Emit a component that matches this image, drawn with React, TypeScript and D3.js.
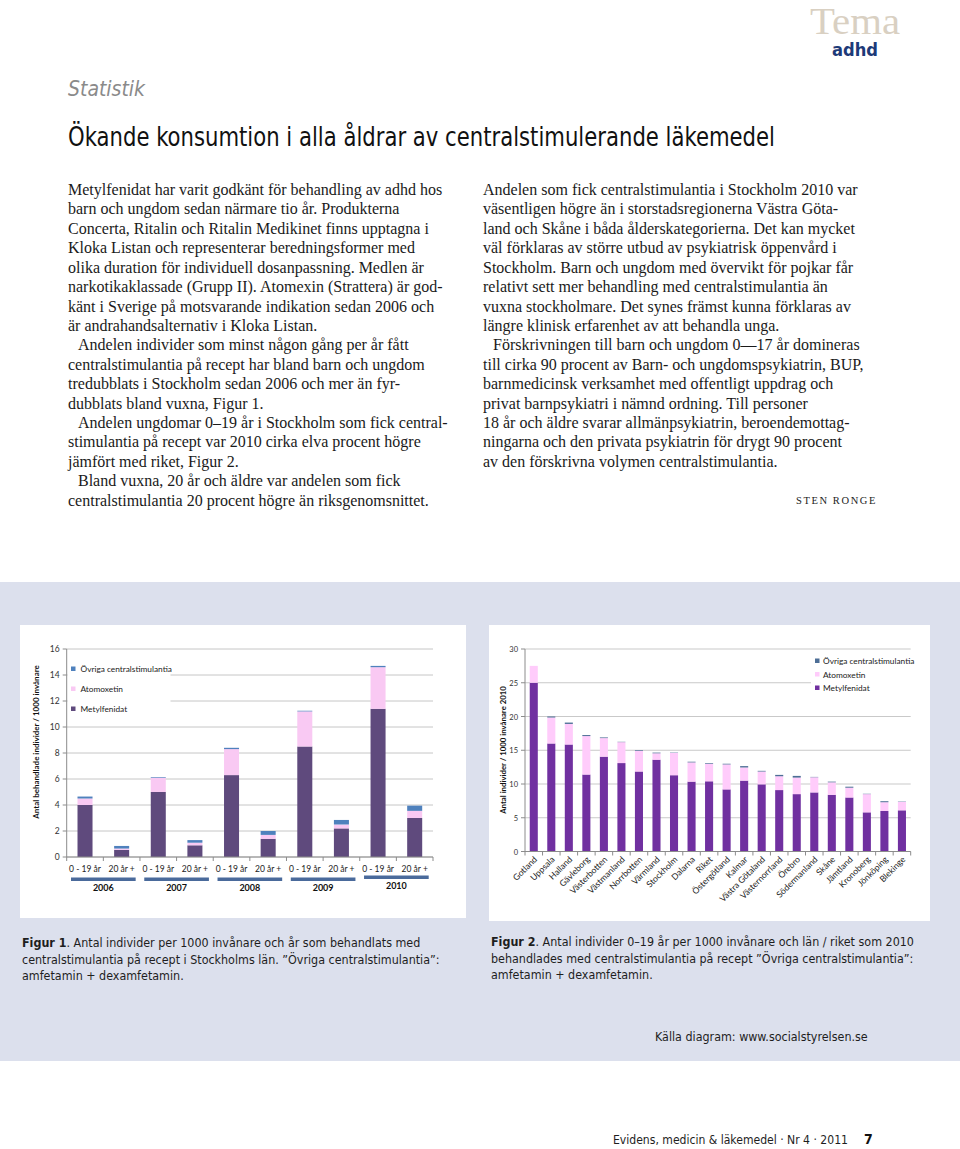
import React from 'react';
import * as d3 from 'd3';

// ---------- DATA ----------
const fig1Years = ['2006', '2007', '2008', '2009', '2010'];
const fig1Groups = ['0 - 19 år', '20 år +'];
const fig1Metyl = [4.0, 0.55, 5.0, 0.9, 6.3, 1.4, 8.5, 2.2, 11.4, 3.0];
const fig1Atom = [0.5, 0.1, 1.1, 0.2, 2.0, 0.3, 2.7, 0.3, 3.2, 0.55];
const fig1Ovr = [0.15, 0.2, 0.05, 0.2, 0.1, 0.3, 0.05, 0.35, 0.1, 0.4];
const fig1Ticks = [0, 2, 4, 6, 8, 10, 12, 14, 16];

const fig2Regions = ['Gotland', 'Uppsala', 'Halland', 'Gävleborg', 'Västerbotten', 'Västmanland', 'Norrbotten', 'Värmland', 'Stockholm', 'Dalarna', 'Riket', 'Östergötland', 'Kalmar', 'Västra Götaland', 'Västernorrland', 'Örebro', 'Södermanland', 'Skåne', 'Jämtland', 'Kronoberg', 'Jönköping', 'Blekinge'];
const fig2Metyl = [25.0, 16.0, 15.85, 11.4, 14.05, 13.1, 11.85, 13.6, 11.3, 10.35, 10.4, 9.2, 10.5, 9.95, 9.1, 8.5, 8.75, 8.4, 8.0, 5.8, 6.0, 6.1];
const fig2Atom = [2.5, 3.85, 3.05, 5.7, 2.75, 3.1, 3.05, 0.95, 3.3, 2.85, 2.6, 3.7, 1.95, 1.9, 2.05, 2.45, 2.25, 1.85, 1.45, 2.7, 1.3, 1.25];
const fig2Ovr = [0, 0.15, 0.2, 0.15, 0.1, 0.05, 0.1, 0.1, 0.05, 0.1, 0.1, 0.1, 0.2, 0.1, 0.2, 0.25, 0.05, 0.1, 0.15, 0.05, 0.15, 0.05];
const fig2Ticks = [0, 5, 10, 15, 20, 25, 30];

const seriesLegend = ['Övriga centralstimulantia', 'Atomoxetin', 'Metylfenidat'];

const leftColumn = [
  ['Metylfenidat har varit godkänt för behandling av adhd hos',
    'barn och ungdom sedan närmare tio år. Produkterna',
    'Concerta, Ritalin och Ritalin Medikinet finns upptagna i',
    'Kloka Listan och representerar beredningsformer med',
    'olika duration för individuell dosanpassning. Medlen är',
    'narkotikaklassade (Grupp II). Atomexin (Strattera) är god-',
    'känt i Sverige på motsvarande indikation sedan 2006 och',
    'är andrahandsalternativ i Kloka Listan.'],
  ['Andelen individer som minst någon gång per år fått',
    'centralstimulantia på recept har bland barn och ungdom',
    'tredubblats i Stockholm sedan 2006 och mer än fyr-',
    'dubblats bland vuxna, Figur 1.'],
  ['Andelen ungdomar 0–19 år i Stockholm som fick central-',
    'stimulantia på recept var 2010 cirka elva procent högre',
    'jämfört med riket, Figur 2.'],
  ['Bland vuxna, 20 år och äldre var andelen som fick',
    'centralstimulantia 20 procent högre än riksgenomsnittet.'],
];
const rightColumn = [
  ['Andelen som fick centralstimulantia i Stockholm 2010 var',
    'väsentligen högre än i storstadsregionerna Västra Göta-',
    'land och Skåne i båda ålderskategorierna. Det kan mycket',
    'väl förklaras av större utbud av psykiatrisk öppenvård i',
    'Stockholm. Barn och ungdom med övervikt för pojkar får',
    'relativt sett mer behandling med centralstimulantia än',
    'vuxna stockholmare. Det synes främst kunna förklaras av',
    'längre klinisk erfarenhet av att behandla unga.'],
  ['Förskrivningen till barn och ungdom 0—17 år domineras',
    'till cirka 90 procent av Barn- och ungdomspsykiatrin, BUP,',
    'barnmedicinsk verksamhet med offentligt uppdrag och',
    'privat barnpsykiatri i nämnd ordning. Till personer',
    '18 år och äldre svarar allmänpsykiatrin, beroendemottag-',
    'ningarna  och den privata psykiatrin för drygt 90 procent',
    'av den förskrivna volymen centralstimulantia.'],
];

const caption1 = [
  ['Figur 1', '. Antal individer per 1000 invånare och år som behandlats med'],
  ['', 'centralstimulantia på recept i Stockholms län. ”Övriga centralstimulantia”:'],
  ['', 'amfetamin + dexamfetamin.'],
];
const caption2 = [
  ['Figur 2', '. Antal individer 0–19 år per 1000 invånare och län / riket  som 2010'],
  ['', 'behandlades med centralstimulantia på recept ”Övriga centralstimulantia”:'],
  ['', 'amfetamin + dexamfetamin.'],
];

// ---------- STYLE ----------
const SERIF = '"Liberation Serif", "DejaVu Serif", serif';
const COND = '"Liberation Sans Narrow", "DejaVu Sans Condensed", "Roboto", sans-serif';
const CHART = 'Lato, "Open Sans", sans-serif';

function flattenColumn(paras: string[][]) {
  const out: { text: string; indent: boolean }[] = [];
  paras.forEach((p, pi) => p.forEach((t, li) => out.push({ text: t, indent: pi > 0 && li === 0 })));
  return out;
}

function Fig1() {
  const cats = fig1Years.flatMap((y) => fig1Groups.map((g) => y + '|' + g));
  const x = d3.scaleBand().domain(cats).range([66.7, 433]).paddingInner(0.59).paddingOuter(0.295);
  const y = d3.scaleLinear().domain([0, 16]).range([857, 649]);
  const rows = cats.map((c, i) => ({ cat: c, metyl: fig1Metyl[i], atom: fig1Atom[i], ovr: fig1Ovr[i] }));
  const stack = d3.stack<any>().keys(['metyl', 'atom', 'ovr'])(rows);
  const colors: Record<string, string> = { metyl: '#5f4a7d', atom: '#f9c9f3', ovr: '#4f81bd' };
  const step = x.step();
  const x0 = 66.7;
  return (
    <g>
      <rect x={20} y={625} width={446} height={293} fill="#fff" />
      {fig1Ticks.map((t) => (
        <g key={t}>
          <line x1={x0} x2={433} y1={y(t)} y2={y(t)} stroke="#c6c6c6" strokeWidth={1} />
          <line x1={x0 - 4} x2={x0} y1={y(t)} y2={y(t)} stroke="#8c8c8c" />
          <text x={x0 - 7} y={y(t) + 3} textAnchor="end" fontSize={8.5} fontFamily={CHART} fill="#333">{t}</text>
        </g>
      ))}
      <rect x={67.5} y={659} width={103} height={58} fill="#fff" />
      {stack.map((s) => s.map((d, i) => (
        <rect key={s.key + i} x={x(cats[i])} width={x.bandwidth()} y={y(d[1])} height={y(d[0]) - y(d[1])} fill={colors[s.key]} />
      )))}
      <line x1={x0} x2={x0} y1={649} y2={857} stroke="#8c8c8c" />
      <line x1={x0} x2={433} y1={857} y2={857} stroke="#8c8c8c" />
      {d3.range(cats.length + 1).map((i) => (
        <line key={i} x1={x0 + i * step} x2={x0 + i * step} y1={857} y2={861} stroke="#8c8c8c" />
      ))}
      {cats.map((c) => (
        <text key={c} x={(x(c) as number) + x.bandwidth() / 2} y={872} textAnchor="middle" fontSize={8.5} fontFamily={CHART} fill="#222">{c.split('|')[1]}</text>
      ))}
      {fig1Years.map((yr, i) => (
        <g key={yr}>
          <rect x={x0 + 2 * i * step + 4.3} y={i === 4 ? 875.5 : 877.5} width={2 * step - 8.6} height={3.5} fill="#4a6a9b" />
          <text x={x0 + (2 * i + 1) * step} y={i === 4 ? 889 : 891} textAnchor="middle" fontSize={9} fontWeight="bold" fontFamily={CHART} fill="#111">{yr}</text>
        </g>
      ))}
      {seriesLegend.map((n, i) => (
        <g key={n}>
          <rect x={71} y={666.5 + i * 20} width={4.5} height={4.5} fill={[colors.ovr, colors.atom, colors.metyl][i]} />
          <text x={80.5} y={672 + i * 20} fontSize={8.3} fontFamily={CHART} fill="#222">{n}</text>
        </g>
      ))}
      <text transform="translate(39,742) rotate(-90)" textAnchor="middle" fontSize={8} fontWeight="bold" fontFamily={CHART} fill="#111">Antal behandlade individer / 1000 invånare</text>
    </g>
  );
}

function Fig2() {
  const x = d3.scaleBand().domain(fig2Regions).range([525, 910.7]).paddingInner(0.54).paddingOuter(0.27);
  const y = d3.scaleLinear().domain([0, 30]).range([851.5, 649]);
  const rows = fig2Regions.map((r, i) => ({ r, metyl: fig2Metyl[i], atom: fig2Atom[i], ovr: fig2Ovr[i] }));
  const stack = d3.stack<any>().keys(['metyl', 'atom', 'ovr'])(rows);
  const colors: Record<string, string> = { metyl: '#7030a0', atom: '#ffccfb', ovr: '#4d6e96' };
  const step = x.step();
  const x0 = 525;
  return (
    <g>
      <rect x={489} y={625} width={441} height={296} fill="#fff" />
      {fig2Ticks.map((t) => (
        <g key={t}>
          <line x1={x0} x2={910.7} y1={y(t)} y2={y(t)} stroke="#c9c9c9" strokeWidth={1} />
          <line x1={x0 - 4} x2={x0} y1={y(t)} y2={y(t)} stroke="#8c8c8c" />
          <text x={x0 - 7} y={y(t) + 3} textAnchor="end" fontSize={7.5} fontFamily={CHART} fill="#333">{t}</text>
        </g>
      ))}
      <rect x={811} y={654} width={100} height={42} fill="#fff" />
      {stack.map((s) => s.map((d, i) => (
        <rect key={s.key + i} x={x(fig2Regions[i])} width={x.bandwidth()} y={y(d[1])} height={Math.max(0, y(d[0]) - y(d[1]))} fill={colors[s.key]} />
      )))}
      <line x1={x0} x2={x0} y1={649} y2={851.5} stroke="#8c8c8c" />
      <line x1={x0} x2={910.7} y1={851.5} y2={851.5} stroke="#8c8c8c" />
      {d3.range(fig2Regions.length + 1).map((i) => (
        <line key={i} x1={x0 + i * step} x2={x0 + i * step} y1={851.5} y2={855.5} stroke="#8c8c8c" />
      ))}
      {fig2Regions.map((r) => {
        const cx = (x(r) as number) + x.bandwidth() / 2;
        return (
          <text key={r} transform={`translate(${cx + 4},${860}) rotate(-45)`} textAnchor="end" fontSize={8.6} fontFamily={CHART} fill="#222">{r}</text>
        );
      })}
      {seriesLegend.map((n, i) => (
        <g key={n}>
          <rect x={815} y={658.5 + i * 13.5} width={4.5} height={4.5} fill={[colors.ovr, colors.atom, colors.metyl][i]} />
          <text x={823} y={664 + i * 13.5} fontSize={8.3} fontFamily={CHART} fill="#222">{n}</text>
        </g>
      ))}
      <text transform="translate(506,750) rotate(-90)" textAnchor="middle" fontSize={7.8} fontWeight="bold" fontFamily={CHART} fill="#111">Antal individer / 1000 invånare 2010</text>
    </g>
  );
}

function Column({ paras, x }: { paras: string[][]; x: number }) {
  const lines = flattenColumn(paras);
  return (
    <g>
      {lines.map((l, i) => (
        <text key={i} x={x + (l.indent ? 10 : 0)} y={195 + i * 19.42} fontSize={16} fontFamily={SERIF} fill="#1a1a1a">{l.text}</text>
      ))}
    </g>
  );
}

function Caption({ lines, x, y }: { lines: string[][]; x: number; y: number }) {
  return (
    <g>
      {lines.map((l, i) => (
        <text key={i} x={x} y={y + i * 16.5} fontSize={12.4} fontFamily={COND} fill="#1e1e1e">
          {l[0] ? <tspan fontWeight="bold">{l[0]}</tspan> : null}
          <tspan>{l[1]}</tspan>
        </text>
      ))}
    </g>
  );
}

export default function App() {
  return (
    <svg width={960} height={1149} viewBox="0 0 960 1149" style={{ position: 'absolute', left: 0, top: 0, background: '#fff' }}>
      <rect x={0} y={0} width={960} height={1149} fill="#fff" />
      {/* header */}
      <text x={810} y={34} fontSize={37} fontFamily={SERIF} fill="#d9d0c2" textLength={90} lengthAdjust="spacingAndGlyphs">Tema</text>
      <text x={832} y={56} fontSize={17} fontWeight="bold" fontFamily={COND} fill="#1d3a78" textLength={46} lengthAdjust="spacingAndGlyphs">adhd</text>
      <text x={68} y={96} fontSize={21} fontStyle="italic" fontFamily={COND} fill="#8a8a8a" textLength={77} lengthAdjust="spacingAndGlyphs">Statistik</text>
      <text x={68} y={146} fontSize={26} fontFamily={COND} fill="#111" textLength={707} lengthAdjust="spacingAndGlyphs">Ökande konsumtion i alla åldrar av centralstimulerande läkemedel</text>
      {/* body text */}
      <Column paras={leftColumn} x={68} />
      <Column paras={rightColumn} x={483} />
      <text x={796} y={504} fontSize={10.5} letterSpacing={1.6} fontFamily={SERIF} fill="#222">STEN RONGE</text>
      {/* chart band */}
      <rect x={0} y={582} width={960} height={479} fill="#dce0ed" />
      <Fig1 />
      <Fig2 />
      <Caption lines={caption1} x={22} y={947} />
      <Caption lines={caption2} x={491} y={946} />
      <text x={655} y={1041} fontSize={12.4} fontFamily={COND} fill="#1e1e1e">Källa diagram: www.socialstyrelsen.se</text>
      {/* footer */}
      <text x={613} y={1144} fontSize={12.5} fontFamily={COND} fill="#1e1e1e" textLength={235} lengthAdjust="spacingAndGlyphs">Evidens, medicin &amp; läkemedel · Nr 4 · 2011</text>
      <text x={864} y={1144} fontSize={14} fontWeight="bold" fontFamily={COND} fill="#111">7</text>
    </svg>
  );
}
